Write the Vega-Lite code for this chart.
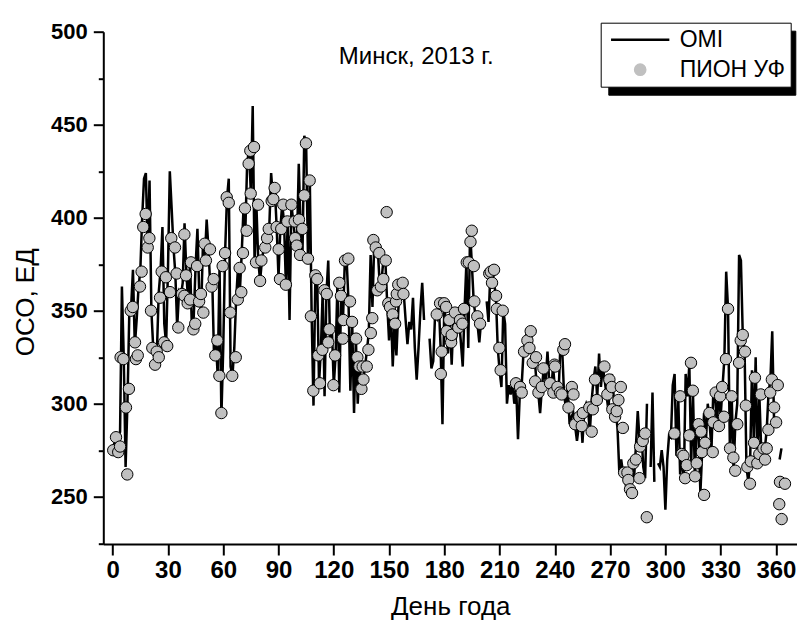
{
"$schema":"https://vega.github.io/schema/vega-lite/v6.json",
"width":694,"height":512.3,
"autosize":"none",
"padding":{"left":103.3,"top":31.7,"right":0,"bottom":82},
"background":"white",
"config":{"view":{"stroke":null},"font":"Liberation Sans"},
"title":{"text":"Минск, 2013 г.","font":"Liberation Sans","fontSize":24,"fontWeight":"normal","color":"black","anchor":"middle","frame":"group","offset":0,"baseline":"alphabetic","dx":-34,"dy":67},
"datasets":{
"omi":[
{"d":0,"v":276},{"d":1,"v":279},{"d":2,"v":275},{"d":3,"v":280},{"d":4,"v":285},{"d":5,"v":363},{"d":6,"v":325},{"d":7,"v":266},{"d":8,"v":300},{"d":9,"v":348},
{"d":10,"v":352},{"d":11,"v":372},{"d":12,"v":331},{"d":13,"v":345},{"d":14,"v":362},{"d":15,"v":372},{"d":16,"v":400},{"d":17,"v":421},{"d":18,"v":424},{"d":19,"v":384},
{"d":20,"v":420},{"d":21,"v":350},{"d":22,"v":330},{"d":23,"v":321},{"d":24,"v":328},{"d":25,"v":360},{"d":26,"v":372},{"d":27,"v":395},{"d":28,"v":343},{"d":29,"v":332},
{"d":30,"v":372},{"d":31,"v":425},{"d":32,"v":405},{"d":33,"v":384},{"d":34,"v":370},{"d":35,"v":341},{"d":36,"v":360},{"d":37,"v":358},{"d":38,"v":365},{"d":39,"v":397},
{"d":40,"v":370},{"d":41,"v":354},{"d":42,"v":376},{"d":43,"v":340},{"d":44,"v":347},{"d":45,"v":374},{"d":46,"v":394},{"d":47,"v":358},{"d":48,"v":349},{"d":49,"v":386},
{"d":50,"v":377},{"d":51,"v":399},{"d":52,"v":383},{"d":53,"v":362},{"d":54,"v":368},{"d":55,"v":326},{"d":56,"v":334},{"d":57,"v":315},{"d":58,"v":374},{"d":59,"v":293},
{"d":60,"v":330},{"d":61,"v":381},{"d":62,"v":410},{"d":63,"v":421},{"d":64,"v":320},{"d":65,"v":315},{"d":66,"v":330},{"d":67,"v":356},{"d":68,"v":373},{"d":69,"v":360},
{"d":70,"v":380},{"d":71,"v":405},{"d":72,"v":393},{"d":73,"v":430},{"d":74,"v":436},{"d":75,"v":413},{"d":76,"v":460},{"d":77,"v":376},{"d":78,"v":407},{"d":79,"v":377},
{"d":80,"v":366},{"d":81,"v":377},{"d":82,"v":384},{"d":83,"v":389},{"d":84,"v":394},{"d":85,"v":395},{"d":86,"v":424},{"d":87,"v":410},{"d":88,"v":416},{"d":89,"v":395},
{"d":90,"v":368},{"d":91,"v":394},{"d":92,"v":407},{"d":93,"v":398},{"d":94,"v":364},{"d":95,"v":398},{"d":96,"v":345},{"d":97,"v":407},{"d":98,"v":398},{"d":99,"v":389},
{"d":100,"v":385},{"d":101,"v":429},{"d":102,"v":394},{"d":103,"v":380},{"d":104,"v":444},{"d":105,"v":440},{"d":106,"v":378},{"d":107,"v":420},{"d":108,"v":347},{"d":109,"v":299},
{"d":110,"v":368},{"d":111,"v":367},{"d":112,"v":311},{"d":113,"v":329},{"d":114,"v":361},{"d":115,"v":304},{"d":116,"v":359},{"d":117,"v":377},{"d":118,"v":333},{"d":119,"v":340},
{"d":120,"v":310},{"d":121,"v":326},{"d":122,"v":365},{"d":123,"v":306},{"d":124,"v":358},{"d":125,"v":345},{"d":126,"v":377},{"d":127,"v":377},{"d":128,"v":355},{"d":129,"v":307},
{"d":130,"v":344},{"d":131,"v":295},{"d":132,"v":335},{"d":133,"v":300},{"d":134,"v":320},{"d":135,"v":308},{"d":136,"v":313},{"d":137,"v":320},{"d":138,"v":329},{"d":139,"v":338},
{"d":140,"v":380},{"d":141,"v":352},{"d":142,"v":388},{"d":143,"v":384},{"d":144,"v":381},{"d":145,"v":363},{"d":146,"v":367},{"d":147,"v":378},{"d":148,"v":377},{"d":149,"v":354},
{"d":150,"v":334},{"d":151,"v":352},{"d":152,"v":320},{"d":153,"v":343},{"d":154,"v":326},{"d":155,"v":350},{"d":156,"v":364},{"d":157,"v":365},{"d":158,"v":359},{"d":159,"v":345},
{"d":160,"v":332},{"d":161,"v":344},{"d":162,"v":340},{"d":163,"v":357},{"d":164,"v":330},{"d":165,"v":313},{"d":166,"v":330},{"d":167,"v":350},{"d":168,"v":365},{"d":169,"v":345},
{"d":170,"v":null},{"d":171,"v":null},{"d":172,"v":335},{"d":173,"v":319},{"d":174,"v":323},{"d":175,"v":348},{"d":176,"v":346},{"d":177,"v":354},{"d":178,"v":330},{"d":179,"v":289},
{"d":180,"v":354},{"d":181,"v":340},{"d":182,"v":327},{"d":183,"v":345},{"d":184,"v":321},{"d":185,"v":348},{"d":186,"v":333},{"d":187,"v":341},{"d":188,"v":345},{"d":189,"v":333},
{"d":190,"v":320},{"d":191,"v":351},{"d":192,"v":376},{"d":193,"v":330},{"d":194,"v":393},{"d":195,"v":374},{"d":196,"v":354},{"d":197,"v":347},{"d":198,"v":343},{"d":199,"v":333},
{"d":200,"v":345},{"d":201,"v":340},{"d":202,"v":null},{"d":203,"v":355},{"d":204,"v":344},{"d":205,"v":371},{"d":206,"v":371},{"d":207,"v":365},{"d":208,"v":358},{"d":209,"v":330},
{"d":210,"v":318},{"d":211,"v":309},{"d":212,"v":350},{"d":213,"v":343},{"d":214,"v":300},{"d":215,"v":310},{"d":216,"v":305},{"d":217,"v":311},{"d":218,"v":300},{"d":219,"v":309},
{"d":220,"v":281},{"d":221,"v":306},{"d":222,"v":310},{"d":223,"v":328},{"d":224,"v":334},{"d":225,"v":340},{"d":226,"v":330},{"d":227,"v":339},{"d":228,"v":322},{"d":229,"v":325},
{"d":230,"v":312},{"d":231,"v":306},{"d":232,"v":295},{"d":233,"v":309},{"d":234,"v":319},{"d":235,"v":312},{"d":236,"v":328},{"d":237,"v":311},{"d":238,"v":306},{"d":239,"v":320},
{"d":240,"v":309},{"d":241,"v":306},{"d":242,"v":305},{"d":243,"v":331},{"d":244,"v":329},{"d":245,"v":305},{"d":246,"v":298},{"d":247,"v":309},{"d":248,"v":289},{"d":249,"v":293},
{"d":250,"v":295},{"d":251,"v":288},{"d":252,"v":280},{"d":253,"v":288},{"d":254,"v":295},{"d":255,"v":279},{"d":256,"v":297},{"d":257,"v":300},{"d":258,"v":297},{"d":259,"v":285},
{"d":260,"v":302},{"d":261,"v":313},{"d":262,"v":320},{"d":263,"v":303},{"d":264,"v":327},{"d":265,"v":309},{"d":266,"v":320},{"d":267,"v":313},{"d":268,"v":305},{"d":269,"v":297},
{"d":270,"v":309},{"d":271,"v":316},{"d":272,"v":303},{"d":273,"v":296},{"d":274,"v":287},{"d":275,"v":263},{"d":276,"v":270},{"d":277,"v":263},{"d":278,"v":259},{"d":279,"v":254},
{"d":280,"v":252},{"d":281,"v":268},{"d":282,"v":270},{"d":283,"v":260},{"d":284,"v":277},{"d":285,"v":296},{"d":286,"v":280},{"d":287,"v":284},{"d":288,"v":266},{"d":289,"v":260},
{"d":290,"v":300},{"d":291,"v":null},{"d":292,"v":266},{"d":293,"v":306},{"d":294,"v":258},{"d":295,"v":null},{"d":296,"v":268},{"d":297,"v":266},{"d":298,"v":275},{"d":299,"v":266},
{"d":300,"v":243},{"d":301,"v":270},{"d":302,"v":283},{"d":303,"v":282},{"d":304,"v":310},{"d":305,"v":316},{"d":306,"v":272},{"d":307,"v":303},{"d":308,"v":262},{"d":309,"v":273},
{"d":310,"v":258},{"d":311,"v":316},{"d":312,"v":304},{"d":313,"v":321},{"d":314,"v":268},{"d":315,"v":305},{"d":316,"v":261},{"d":317,"v":288},{"d":318,"v":285},{"d":319,"v":252},
{"d":320,"v":275},{"d":321,"v":295},{"d":322,"v":280},{"d":323,"v":300},{"d":324,"v":290},{"d":325,"v":275},{"d":326,"v":306},{"d":327,"v":304},{"d":328,"v":288},{"d":329,"v":309},
{"d":330,"v":293},{"d":331,"v":309},{"d":332,"v":324},{"d":333,"v":371},{"d":334,"v":351},{"d":335,"v":276},{"d":336,"v":304},{"d":337,"v":264},{"d":338,"v":290},{"d":339,"v":300},
{"d":340,"v":380},{"d":341,"v":377},{"d":342,"v":337},{"d":343,"v":328},{"d":344,"v":266},{"d":345,"v":258},{"d":346,"v":269},{"d":347,"v":318},{"d":348,"v":279},{"d":349,"v":325},
{"d":350,"v":268},{"d":351,"v":305},{"d":352,"v":276},{"d":353,"v":270},{"d":354,"v":276},{"d":355,"v":286},{"d":356,"v":306},{"d":357,"v":313},{"d":358,"v":339},{"d":359,"v":290},
{"d":360,"v":null},{"d":361,"v":null},{"d":362,"v":270},{"d":363,"v":276}
],
"pion":[
{"d":0.3,"v":275},{"d":1.8,"v":282},{"d":3,"v":274},{"d":4,"v":277},{"d":4.3,"v":325},{"d":5.8,"v":324},{"d":7.2,"v":298},{"d":7.9,"v":262},{"d":8.8,"v":308},{"d":9.8,"v":350},
{"d":10.9,"v":352},{"d":12.1,"v":333},{"d":12.6,"v":324},{"d":13.6,"v":326},{"d":14.8,"v":363},{"d":15.7,"v":371},{"d":16.6,"v":395},{"d":17.9,"v":402},{"d":19,"v":384},{"d":19.9,"v":389},
{"d":20.8,"v":350},{"d":21.5,"v":330},{"d":23,"v":321},{"d":23.9,"v":328},{"d":25,"v":325},{"d":25.7,"v":357},{"d":26.6,"v":371},{"d":27.9,"v":333},{"d":28.9,"v":368},{"d":29.6,"v":331},
{"d":31.1,"v":360},{"d":31.8,"v":389},{"d":33.8,"v":384},{"d":34.7,"v":370},{"d":35.6,"v":341},{"d":37.6,"v":359},{"d":38.9,"v":358},{"d":38.9,"v":391},{"d":39.8,"v":369},{"d":40.7,"v":354},
{"d":42,"v":356},{"d":42.5,"v":376},{"d":43.8,"v":340},{"d":44.8,"v":343},{"d":45.8,"v":374},{"d":46.9,"v":355},{"d":47.9,"v":359},{"d":49.2,"v":349},{"d":49.9,"v":386},{"d":50.6,"v":377},
{"d":52.8,"v":383},{"d":53.7,"v":363},{"d":54.8,"v":367},{"d":55.7,"v":326},{"d":56.8,"v":334},{"d":57.9,"v":315},{"d":59,"v":295},{"d":59.7,"v":374},{"d":61,"v":381},{"d":61.9,"v":411},
{"d":63,"v":408},{"d":63.8,"v":349},{"d":64.9,"v":315},{"d":66.8,"v":325},{"d":67.9,"v":356},{"d":68.9,"v":373},{"d":69.8,"v":360},{"d":70.7,"v":381},{"d":71.8,"v":405},{"d":72.7,"v":393},
{"d":73.8,"v":429},{"d":74.7,"v":436},{"d":74.9,"v":413},{"d":76.7,"v":438},{"d":77.8,"v":376},{"d":78.9,"v":407},{"d":80,"v":366},{"d":80.7,"v":377},{"d":82.8,"v":384},{"d":83.8,"v":389},
{"d":84.7,"v":394},{"d":86.3,"v":409},{"d":87.2,"v":410},{"d":87.9,"v":416},{"d":89,"v":395},{"d":90.1,"v":383},{"d":90.8,"v":367},{"d":91.5,"v":394},{"d":92.6,"v":407},{"d":94,"v":364},
{"d":94.8,"v":398},{"d":97,"v":407},{"d":98.8,"v":398},{"d":99,"v":389},{"d":99.9,"v":385},{"d":101.1,"v":399},{"d":101.7,"v":380},{"d":102.9,"v":394},{"d":104,"v":412},{"d":104.9,"v":440},
{"d":106,"v":378},{"d":106.9,"v":420},{"d":107.6,"v":347},{"d":108.9,"v":307},{"d":110,"v":369},{"d":111,"v":367},{"d":111.6,"v":326},{"d":112.5,"v":311},{"d":113.8,"v":329},{"d":114.9,"v":361},
{"d":116.2,"v":359},{"d":117,"v":333},{"d":117.6,"v":340},{"d":119.8,"v":310},{"d":120.7,"v":326},{"d":123,"v":365},{"d":123.9,"v":358},{"d":124.9,"v":335},{"d":125.2,"v":345},{"d":126.1,"v":377},
{"d":127.9,"v":378},{"d":128.8,"v":355},{"d":129.9,"v":344},{"d":132.1,"v":335},{"d":132.8,"v":325},{"d":133.9,"v":320},{"d":135,"v":308},{"d":135.7,"v":320},{"d":136.1,"v":313},{"d":137.9,"v":320},
{"d":138.8,"v":329},{"d":140.1,"v":338},{"d":140.9,"v":346},{"d":141.5,"v":388},{"d":142.8,"v":384},{"d":143.6,"v":361},{"d":144.7,"v":381},{"d":145.6,"v":363},{"d":146.9,"v":367},{"d":148.2,"v":377},
{"d":148.7,"v":403},{"d":149.6,"v":354},{"d":150.5,"v":352},{"d":152,"v":348},{"d":153.3,"v":343},{"d":153.8,"v":355},{"d":154.2,"v":359},{"d":155,"v":364},{"d":157.4,"v":365},{"d":157.8,"v":359},
{"d":175.9,"v":348},{"d":177.7,"v":354},{"d":178.1,"v":316},{"d":178.6,"v":328},{"d":179.9,"v":354},{"d":181,"v":352},{"d":181.3,"v":339},{"d":182.7,"v":345},{"d":183.7,"v":333},{"d":184,"v":337},
{"d":185.8,"v":349},{"d":187.6,"v":341},{"d":188.5,"v":345},{"d":189.8,"v":343},{"d":190.7,"v":351},{"d":192.2,"v":376},{"d":193.3,"v":376},{"d":194.2,"v":387},{"d":194.9,"v":393},{"d":196,"v":374},
{"d":196.3,"v":355},{"d":197.9,"v":347},{"d":199.4,"v":343},{"d":204.4,"v":370},{"d":205.2,"v":371},{"d":205.9,"v":365},{"d":207,"v":372},{"d":208.1,"v":358},{"d":208.5,"v":351},{"d":209.9,"v":330},
{"d":210.6,"v":318},{"d":211.7,"v":350},{"d":218.9,"v":311},{"d":221.1,"v":309},{"d":222,"v":306},{"d":223.3,"v":328},{"d":225.1,"v":334},{"d":226.2,"v":330},{"d":226.9,"v":339},{"d":228,"v":322},
{"d":229.3,"v":312},{"d":229.8,"v":325},{"d":231.1,"v":306},{"d":232.9,"v":309},{"d":233.8,"v":319},{"d":237.4,"v":311},{"d":239.2,"v":306},{"d":239.8,"v":321},{"d":240.1,"v":320},{"d":241.4,"v":309},
{"d":242.8,"v":306},{"d":243.7,"v":305},{"d":244.6,"v":329},{"d":245.5,"v":332},{"d":247.4,"v":298},{"d":249.2,"v":309},{"d":250.1,"v":305},{"d":251,"v":289},{"d":253.3,"v":293},{"d":254.6,"v":288},
{"d":255.2,"v":295},{"d":258.7,"v":298},{"d":260,"v":285},{"d":260.6,"v":297},{"d":261.8,"v":313},{"d":262.8,"v":302},{"d":266.9,"v":320},{"d":268.5,"v":305},{"d":269.6,"v":313},{"d":270.9,"v":309},
{"d":271.2,"v":297},{"d":272.7,"v":293},{"d":273.6,"v":296},{"d":274.5,"v":302},{"d":275.8,"v":309},{"d":276.9,"v":287},{"d":277.6,"v":263},{"d":279.4,"v":263},{"d":279.9,"v":259},{"d":280.8,"v":254},
{"d":281.9,"v":252},{"d":282.6,"v":268},{"d":284,"v":270},{"d":285.9,"v":260},{"d":286.3,"v":277},{"d":287.7,"v":280},{"d":289,"v":284},{"d":289.9,"v":239},{"d":304.9,"v":284},{"d":308,"v":304},
{"d":308.9,"v":273},{"d":309.8,"v":272},{"d":310.7,"v":260},{"d":311.6,"v":267},{"d":313,"v":283},{"d":313.9,"v":322},{"d":314.9,"v":307},{"d":316.1,"v":261},{"d":317,"v":268},{"d":318,"v":289},
{"d":319.3,"v":285},{"d":319.8,"v":274},{"d":321,"v":251},{"d":321.6,"v":279},{"d":323.9,"v":295},{"d":325.7,"v":274},{"d":326,"v":290},{"d":327.3,"v":306},{"d":329.1,"v":288},{"d":329.7,"v":304},
{"d":330.8,"v":309},{"d":331.8,"v":293},{"d":332.9,"v":324},{"d":334,"v":351},{"d":335.1,"v":276},{"d":336,"v":304},{"d":336.9,"v":271},{"d":337.9,"v":264},{"d":339,"v":289},{"d":340,"v":322},
{"d":340.9,"v":334},{"d":342,"v":337},{"d":343.2,"v":328},{"d":343.7,"v":299},{"d":344.5,"v":266},{"d":345.9,"v":257},{"d":346.4,"v":269},{"d":348.1,"v":279},{"d":348.6,"v":314},{"d":349.9,"v":268},
{"d":351,"v":273},{"d":351.8,"v":305},{"d":353.2,"v":276},{"d":354.1,"v":270},{"d":355,"v":276},{"d":355.9,"v":286},{"d":356.9,"v":306},{"d":357.8,"v":313},{"d":359,"v":298},{"d":360.1,"v":290},
{"d":361,"v":310},{"d":361.8,"v":246},{"d":362.2,"v":258},{"d":363.1,"v":238},{"d":364.9,"v":257}
]},
"layer":[
{"data":{"name":"omi"},
 "mark":{"type":"line","strokeWidth":2.5,"invalid":"break-paths-show-domains"},
 "encoding":{
  "x":{"field":"d","type":"quantitative","scale":{"domain":[-5.1,371.6],"nice":false,"zero":false},
   "axis":{"values":[0,15,30,45,60,75,90,105,120,135,150,165,180,195,210,225,240,255,270,285,300,315,330,345,360],
    "labelExpr":"datum.value % 30 === 0 ? datum.label : ''",
    "tickSize":{"condition":{"test":"datum.value % 30 === 0","value":11},"value":6},
    "tickWidth":2,"tickColor":"black","domainWidth":2,"domainColor":"black","grid":false,
    "labelFont":"Liberation Sans","labelFontSize":24,"labelFontWeight":"bold","labelColor":"black","labelPadding":4,"labelBaseline":"top","labelFlush":false,"labelOverlap":false,
    "title":"День года","titleFont":"Liberation Sans","titleFontSize":26,"titleFontWeight":"normal","titleColor":"black","titleBaseline":"alphabetic","titleY":71,"titleX":347}},
  "y":{"field":"v","type":"quantitative","scale":{"domain":[224.6,500],"nice":false,"zero":false},
   "axis":{"values":[225,250,275,300,325,350,375,400,425,450,475,500],
    "labelExpr":"datum.value % 50 === 0 ? datum.label : ''",
    "tickSize":{"condition":{"test":"datum.value % 50 === 0","value":10},"value":5},
    "tickWidth":2,"tickColor":"black","domainWidth":2,"domainColor":"black","grid":false,
    "labelFont":"Liberation Sans","labelFontSize":22,"labelFontWeight":"bold","labelColor":"black","labelPadding":6,"labelBaseline":"middle","labelFlush":false,"labelOverlap":false,
    "title":"ОСО, ЕД","titleFont":"Liberation Sans","titleFontSize":26,"titleFontWeight":"normal","titleColor":"black","titleBaseline":"alphabetic","titleAlign":"center","titleAngle":-90,"titleX":-70,"titleY":270}},
  "color":{"datum":"OMI","scale":{"domain":["OMI","ПИОН УФ"],"range":["black","#c0c0c0"]},
   "legend":{"orient":"none","legendX":497.4,"legendY":-9,"zindex":2,"title":null,"strokeColor":"black","fillColor":"white","padding":5,
    "labelFont":"Liberation Sans","labelFontSize":23,"labelColor":"black","labelLimit":0,"labelOffset":10,
    "symbolSize":3249,"symbolType":"stroke","symbolStrokeWidth":1.3,"symbolStrokeColor":"black","symbolOffset":5,"rowPadding":6,"clipHeight":24,
    "encode":{"symbols":{"update":{
      "shape":{"signal":"datum.value === 'OMI' ? 'M-1,-0.022H1V0.022H-1Z' : 'M-0.2,0A0.2,0.2,0,1,1,0.2,0A0.2,0.2,0,1,1,-0.2,0Z'"},
      "size":{"value":3249},
      "fill":{"signal":"datum.value === 'OMI' ? 'black' : '#c0c0c0'"},
      "stroke":{"signal":"'black'"},
      "strokeWidth":{"value":1.3},
      "strokeOpacity":{"value":1},
      "fillOpacity":{"value":1},
      "opacity":{"value":1}}}}}},
  "opacity":{"datum":"OMI\u200b","scale":{"domain":["OMI\u200b","ПИОН УФ\u200b"],"range":[1,1]},
   "legend":{"orient":"none","legendX":505,"legendY":-1,"zindex":1,"title":null,"strokeColor":"black","fillColor":"black","padding":5,
    "labelFont":"Liberation Sans","labelFontSize":23,"labelColor":"black","labelLimit":0,"labelOffset":0,
    "labelExpr":"''",
    "symbolSize":31329,"symbolType":"M0,0","symbolStrokeWidth":0,"symbolOffset":0,"rowPadding":6,"clipHeight":24,
    "encode":{"symbols":{"update":{"shape":{"value":"M0,0"},"size":{"value":31329},"strokeWidth":{"value":0},"stroke":{"value":"transparent"},"fill":{"value":"transparent"}}}}}}
 }},
{"data":{"name":"pion"},
 "mark":{"type":"point","filled":true,"stroke":"black","strokeWidth":1,"size":130,"opacity":1},
 "encoding":{
  "x":{"field":"d","type":"quantitative"},
  "y":{"field":"v","type":"quantitative"},
  "color":{"datum":"ПИОН УФ"}}}
]
}
